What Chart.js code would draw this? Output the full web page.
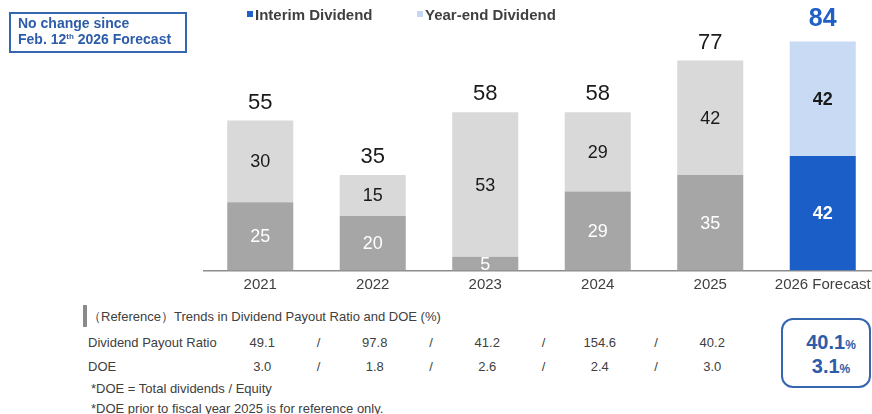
<!DOCTYPE html>
<html lang="en">
<head>
<meta charset="UTF-8">
<title>Dividend</title>
<script src="https://cdn.jsdelivr.net/npm/chart.js"></script>
<style>
  :root { --blue: #1f5fc6; --box-blue: #3566b0; --text: #404040; }
  html, body { margin: 0; padding: 0; background: #fff; overflow: hidden; }
  body { width: 872px; height: 414px; position: relative; font-family: "Liberation Sans", Arial, sans-serif; color: var(--text); }
  #chart-wrap { position: absolute; left: 0; top: 0; width: 880px; height: 300px; }
  .abs { position: absolute; white-space: nowrap; }
  #note-box {
    left: 9px; top: 12px; width: 167px; height: 36px; border: 2px solid var(--box-blue);
    color: #2d5ca8; font-weight: bold; font-size: 14px; line-height: 16px; padding: 1px 0 0 7px; box-sizing: content-box;
  }
  #note-box sup { font-size: 8px; line-height: 0; vertical-align: 5px; }
  .legend-item { font-size: 15px; font-weight: bold; line-height: 18px; top: 6px; }
  .legend-item i { display: inline-block; width: 6px; height: 6px; margin-right: 2px; vertical-align: 3px; }
  #ref-bar { left: 83px; top: 305px; width: 4px; height: 22px; background: #8a8a8a; }
  .tbl { font-size: 13px; line-height: 16px; }
  .val { transform: translateX(-50%); }
  #fc-box {
    left: 781px; top: 318px; width: 86px; height: 66px; border: 2px solid var(--box-blue); border-radius: 12px;
  }
  .fc { font-size: 20px; font-weight: bold; color: #2d5ca8; line-height: 24px; transform: translateX(-50%); }
  .fc small { font-size: 12px; }
</style>
</head>
<body>
<div id="chart-wrap"><canvas id="divChart"></canvas></div>

<div id="note-box" class="abs">No change since<br>Feb. 12<sup>th</sup> 2026 Forecast</div>
<div class="abs legend-item" style="left:247px"><i style="background:#1f5fc6"></i>Interim Dividend</div>
<div class="abs legend-item" style="left:417px"><i style="background:#c5d7f2"></i>Year-end Dividend</div>

<div id="ref-bar" class="abs"></div>
<div class="abs tbl" style="left:88px; top:309px">（Reference）Trends in Dividend Payout Ratio and DOE (%)</div>
<div class="abs tbl" style="left:88px; top:335px">Dividend Payout Ratio</div>
<div class="abs tbl" style="left:88px; top:359px">DOE</div>
<div class="abs tbl" style="left:91px; top:381px">*DOE = Total dividends / Equity</div>
<div class="abs tbl" style="left:91px; top:401px">*DOE prior to fiscal year 2025 is for reference only.</div>
<div id="table-values"></div>

<div id="fc-box" class="abs"></div>

<script>
// ---- data ----
const years = ['2021', '2022', '2023', '2024', '2025', '2026 Forecast'];
const interimDividend = [25, 20, 5, 29, 35, 42];
const yearEndDividend = [30, 15, 53, 29, 42, 42];
const payoutRatio = ['49.1', '97.8', '41.2', '154.6', '40.2'];
const doeValues = ['3.0', '1.8', '2.6', '2.4', '3.0'];
const forecastPayout = '40.1';
const forecastDoe = '3.1';

const isForecast = i => i === years.length - 1;
const interimColors = years.map((y, i) => isForecast(i) ? '#1b5ec8' : '#a6a6a6');
const yearEndColors = years.map((y, i) => isForecast(i) ? '#c9daf5' : '#d9d9d9');
const FONT = '"Liberation Sans", Arial, sans-serif';

// values inside the bars and totals on top
const barLabels = {
  id: 'barLabels',
  afterDatasetsDraw(chart) {
    const ctx = chart.ctx;
    ctx.save();
    ctx.textAlign = 'center';
    ctx.textBaseline = 'middle';
    chart.data.datasets.forEach((ds, di) => {
      chart.getDatasetMeta(di).data.forEach((bar, i) => {
        const fc = isForecast(i);
        ctx.font = (fc ? 'bold ' : '') + '18px ' + FONT;
        ctx.fillStyle = di === 0 ? '#ffffff' : '#1a1a1a';
        ctx.fillText(ds.data[i], bar.x, (bar.y + bar.base) / 2 + 1);
      });
    });
    const top = chart.getDatasetMeta(1).data;
    top.forEach((bar, i) => {
      const total = interimDividend[i] + yearEndDividend[i];
      if (isForecast(i)) {
        ctx.font = 'bold 25px ' + FONT;
        ctx.fillStyle = '#1f5fc6';
        ctx.fillText(total, bar.x, bar.y - 22);
      } else {
        ctx.font = '22px ' + FONT;
        ctx.fillStyle = '#1a1a1a';
        ctx.fillText(total, bar.x, bar.y - 18);
      }
    });
    ctx.restore();
  }
};

const chart = new Chart(document.getElementById('divChart'), {
  type: 'bar',
  data: {
    labels: years,
    datasets: [
      { label: 'Interim Dividend', data: interimDividend, backgroundColor: interimColors },
      { label: 'Year-end Dividend', data: yearEndDividend, backgroundColor: yearEndColors }
    ]
  },
  options: {
    responsive: true,
    maintainAspectRatio: false,
    animation: false,
    layout: { padding: { left: 204, right: 1, top: 11.5, bottom: 0 } },
    datasets: { bar: { categoryPercentage: 1, barPercentage: 0.587 } },
    plugins: { legend: { display: false }, tooltip: { enabled: false } },
    scales: {
      x: {
        stacked: true,
        grid: { display: false, drawTicks: false },
        border: { display: true, color: '#8c8c8c', width: 1.5 },
        ticks: { color: '#404040', font: { family: FONT, size: 15 }, padding: 5, maxRotation: 0 },
        afterFit: s => { s.height = 29.5; }
      },
      y: { stacked: true, display: false, min: 0, max: 95 }
    }
  },
  plugins: [barLabels]
});

// table values under the bars, aligned on the category centres
const tv = document.getElementById('table-values');
function addText(cls, x, y, txt) {
  const d = document.createElement('div');
  d.className = 'abs tbl ' + cls;
  d.style.left = x + 'px';
  d.style.top = y + 'px';
  d.textContent = txt;
  tv.appendChild(d);
}
const xs = chart.scales.x;
payoutRatio.forEach((v, i) => {
  const cx = xs.getPixelForValue(i) + 2;
  addText('val', cx, 335, v);
  addText('val', cx, 359, doeValues[i]);
  if (i < payoutRatio.length - 1) {
    const sx = (xs.getPixelForValue(i) + xs.getPixelForValue(i + 1)) / 2 + 2;
    addText('val', sx, 335, '/');
    addText('val', sx, 359, '/');
  }
});
const box = document.getElementById('fc-box');
[[forecastPayout, 330], [forecastDoe, 354]].forEach(([v, y]) => {
  const d = document.createElement('div');
  d.className = 'abs fc';
  d.style.left = '831px';
  d.style.top = y + 'px';
  d.innerHTML = v + '<small>%</small>';
  document.body.appendChild(d);
});
</script>
</body>
</html>
